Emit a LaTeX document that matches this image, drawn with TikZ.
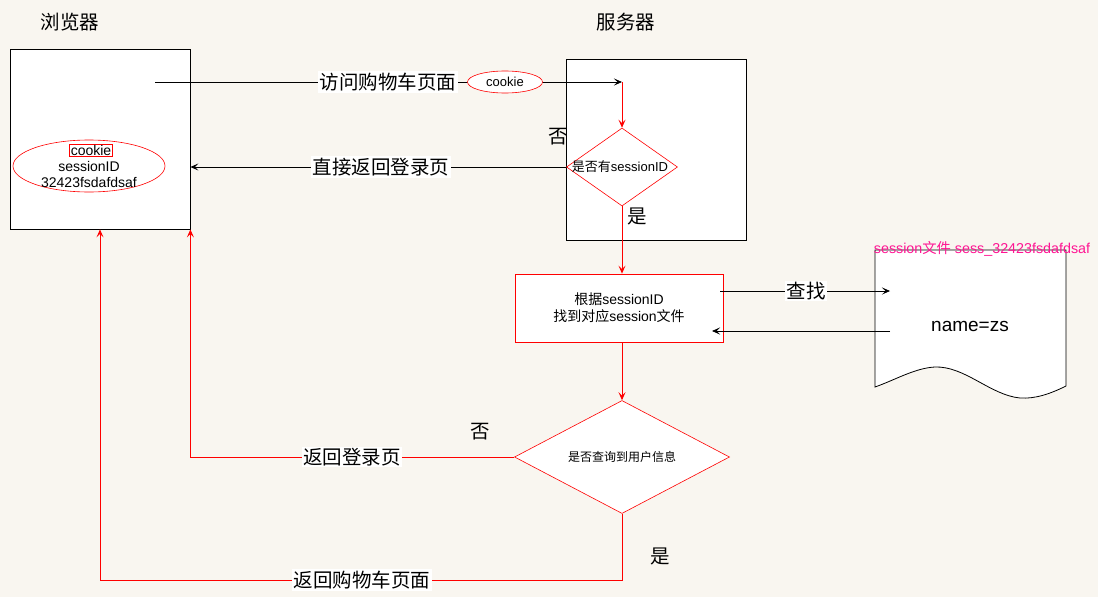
\documentclass[tikz,border=0pt]{standalone}
\usepackage{fontspec}
\setmainfont{Liberation Sans}
\newfontfamily\cjk{Noto Sans CJK SC}
\usetikzlibrary{shapes.geometric,arrows.meta}
\definecolor{bgc}{HTML}{F9F6F0}
\definecolor{mag}{HTML}{FF1493}
\begin{document}
\begin{tikzpicture}[x=1pt,y=-1pt,
  box/.style={draw=black,fill=white,line width=0.8pt,rectangle,inner sep=0pt},
  redbox/.style={draw=red,fill=white,line width=0.8pt,rectangle,inner sep=0pt},
  dia/.style={draw=red,fill=white,line width=0.6pt,diamond,inner sep=0pt},
  blk/.style={draw=black,line width=0.8pt},
  rd/.style={draw=red,line width=0.8pt},
  tip/.style={-{Stealth[length=8pt,width=7pt,inset=3.5pt]}},
  lab/.style={fill=white,inner sep=1.5pt,font=\cjk\fontsize{19.5}{21}\selectfont},
  yn/.style={font=\cjk\fontsize{19.5}{21}\selectfont,inner sep=0pt},
  small/.style={font=\fontsize{13}{15}\selectfont,inner sep=0pt,align=center}
]
\useasboundingbox[fill=bgc] (0,0) rectangle (1098,597);

% titles
\node[yn] (t1) at (70,22) {浏览器};
\node[yn] (t2) at (626,22) {服务器};

% browser box
\node[box,minimum width=180pt,minimum height=180pt] (browser) at (100,139) {};
\node[ellipse,draw=red,line width=0.6pt,minimum width=152pt,minimum height=52pt,inner sep=0pt] (ell) at (89,166) {};
\node[draw=red,line width=0.6pt,inner sep=1pt,font=\fontsize{14}{16}\selectfont] (ck) at (91,150) {cookie};
\node[inner sep=0pt,font=\fontsize{14}{16}\selectfont,align=center] (sid) at (89,174) {sessionID\\32423fsdafdsaf};

% server box
\node[box,minimum width=180pt,minimum height=181pt] (server) at (656,149.5) {};

% diamond 1
\node[dia,minimum width=111pt,minimum height=78pt] (d1) at (622,167) {};
\node[small] (d1t) at (620,167) {{\cjk 是否有}sessionID};

% rect 2
\node[redbox,minimum width=208pt,minimum height=68pt] (r2) at (619,308) {};
\node[font=\fontsize{14}{17}\selectfont,align=center,inner sep=0pt] (r2t) at (619,308) {{\cjk 根据}sessionID\\{\cjk 找到对应}session{\cjk 文件}};

% diamond 2
\node[dia,minimum width=215pt,minimum height=113pt] (d2) at (622,457) {};
\node[font=\cjk\fontsize{12}{14}\selectfont,inner sep=0pt] (d2t) at (622,457) {是否查询到用户信息};

% document shape
\draw[line width=0.8pt,fill=white] (875,250) -- (1066,250) -- (1066,386)
  .. controls (1050,394) and (1035,399) .. (1020,398)
  .. controls (990,395) and (965,366) .. (935,367)
  .. controls (915,368) and (895,380) .. (875,387) -- cycle;
\node[font=\fontsize{19}{22}\selectfont,inner sep=0pt] (doc) at (970,326) {name=zs};
\node[text=mag,font=\fontsize{14.3}{16}\selectfont,inner sep=0pt] (doct) at (982,249) {session{\cjk 文件} sess\_32423fsdafdsaf};

% coordinates
\coordinate (bstart) at (155,82);
\coordinate (turn1) at (622,82);
\coordinate (ra) at (720,291);
\coordinate (da) at (890,291);
\coordinate (db) at (890,331);
\coordinate (rb) at (712,331);
\coordinate (c580) at (100,580);

% connectors
\draw[blk,tip] (bstart) -- (turn1);
\draw[rd,tip,red] (turn1) -- (d1.north);
\draw[blk,tip] (d1.west) -- (browser.east |- d1.west);
\draw[rd,tip,red] (d1.south) -- (d1.south |- r2.north);
\draw[blk,tip] (ra) -- (da);
\draw[blk,tip] (db) -- (rb);
\draw[rd,tip,red] (d2.north |- r2.south) -- (d2.north);
\draw[rd,tip,red] (d2.west) -| (browser.south east);
\draw[rd,tip,red] (d2.south) |- (c580) -- (browser.south);

% labels
\node[lab] (l1) at (388,82) {访问购物车页面};
\node[ellipse,draw=red,fill=white,line width=0.6pt,minimum width=75pt,minimum height=22pt,inner sep=0pt,font=\fontsize{13}{15}\selectfont] (ckmsg) at (505,82) {cookie};
\node[lab] (l2) at (381,167) {直接返回登录页};
\node[lab] (l3) at (806,291) {查找};
\node[lab] (l4) at (352,457) {返回登录页};
\node[lab] (l5) at (362,580) {返回购物车页面};

\node[yn] (n1) at (558,137) {否};
\node[yn] (y1) at (637,216) {是};
\node[yn] (n2) at (480,432) {否};
\node[yn] (y2) at (660,556) {是};
\end{tikzpicture}
\end{document}
